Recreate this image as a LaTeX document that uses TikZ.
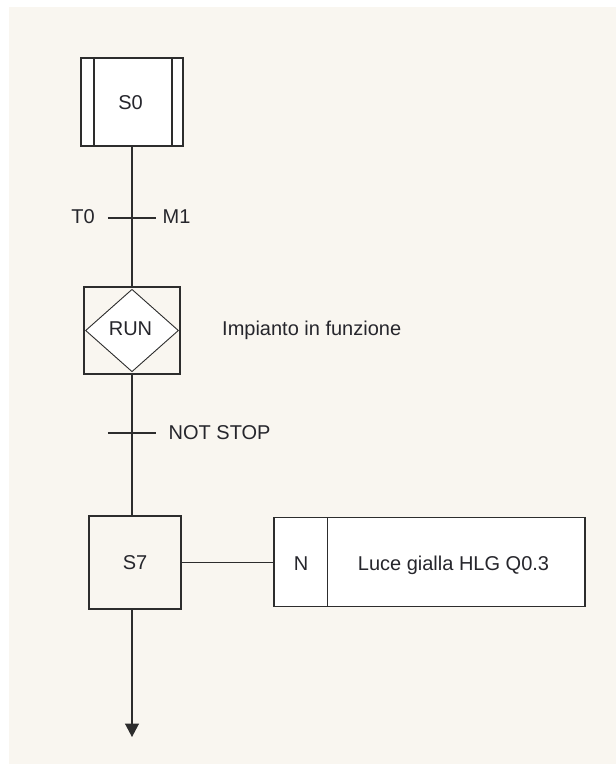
\documentclass[tikz,border=0pt]{standalone}
\usepackage{fontspec}
\setmainfont{Liberation Sans}
\usetikzlibrary{arrows.meta,shapes.geometric}
\definecolor{bgcream}{RGB}{249,246,240}
\definecolor{lncol}{RGB}{45,45,45}
\definecolor{txcol}{RGB}{38,38,44}
\tikzset{
  box/.style={draw=lncol, line width=1.3pt, rectangle, inner sep=0pt},
  bar/.style={inner sep=0pt, minimum height=0pt, minimum width=48pt},
  lbl/.style={inner sep=0pt, text=txcol, font=\fontsize{20}{24}\selectfont},
  wire/.style={draw=lncol, line width=1.3pt},
}
\begin{document}
\begin{tikzpicture}[x=1pt,y=-1pt]
\useasboundingbox (0,0) rectangle (616,764);
\fill[white] (0,0) rectangle (616,764);
\fill[bgcream] (9,7) rectangle (616,764);

% step S0 (initial step)
\node[box, fill=white, minimum width=102pt, minimum height=88pt] (S0) at (132,102) {};
\draw[wire] ([xshift=13.7pt]S0.north west) -- ([xshift=13.7pt]S0.south west);
\draw[wire] ([xshift=-11.7pt]S0.north east) -- ([xshift=-11.7pt]S0.south east);
\node[lbl, anchor=base] (s0t) at (130.5,109.3) {S0};

% transition T0 M1
\node[bar] (t1) at (132,218) {};
\node[lbl, anchor=base] (t0l) at (83,223.3) {T0};
\node[lbl, anchor=base] (m1l) at (176.5,223.3) {M1};

% macro step RUN
\node[box, minimum width=96pt, minimum height=87pt] (RUN) at (132,330.5) {};
\node[diamond, draw=lncol, line width=0.9pt, fill=white, inner sep=0pt,
      minimum width=93pt, minimum height=82.5pt] (RUNd) at (132,330.5) {};
\node[lbl, anchor=base] (runt) at (130.5,335.7) {RUN};
\node[lbl, anchor=base west] (imp) at (222,335.7) {Impianto in funzione};

% transition NOT STOP
\node[bar] (t2) at (132,433) {};
\node[lbl, anchor=base west] (nst) at (168.5,439.5) {NOT STOP};

% step S7
\node[box, minimum width=92pt, minimum height=93pt] (S7) at (135,562.5) {};
\node[lbl, anchor=base] (s7t) at (135,569) {S7};

% action block
\node[box, fill=white, minimum width=53.7pt, minimum height=89pt] (AN) at (300.85,562.2) {};
\node[box, fill=white, minimum width=257.3pt, minimum height=89pt] (AT) at (456.35,562.2) {};
\node[lbl, anchor=base] (ant) at (301,570) {N};
\node[lbl, anchor=base] (att) at (453.5,570) {Luce gialla HLG Q0.3};

\coordinate (endp) at (132,737);

% connectors
\draw[wire] (S0.south) -- (RUN.north);
\draw[wire] (RUN.south) -- (RUN.south |- S7.north);
\draw[wire, -{Triangle[width=14pt,length=13.5pt]}] (RUN.south |- S7.south) -- (endp);
\draw[wire] (S7.east |- AN.west) -- (AN.west);
\draw[wire] (t1.west) -- (t1.east);
\draw[wire] (t2.west) -- (t2.east);
\end{tikzpicture}
\end{document}
